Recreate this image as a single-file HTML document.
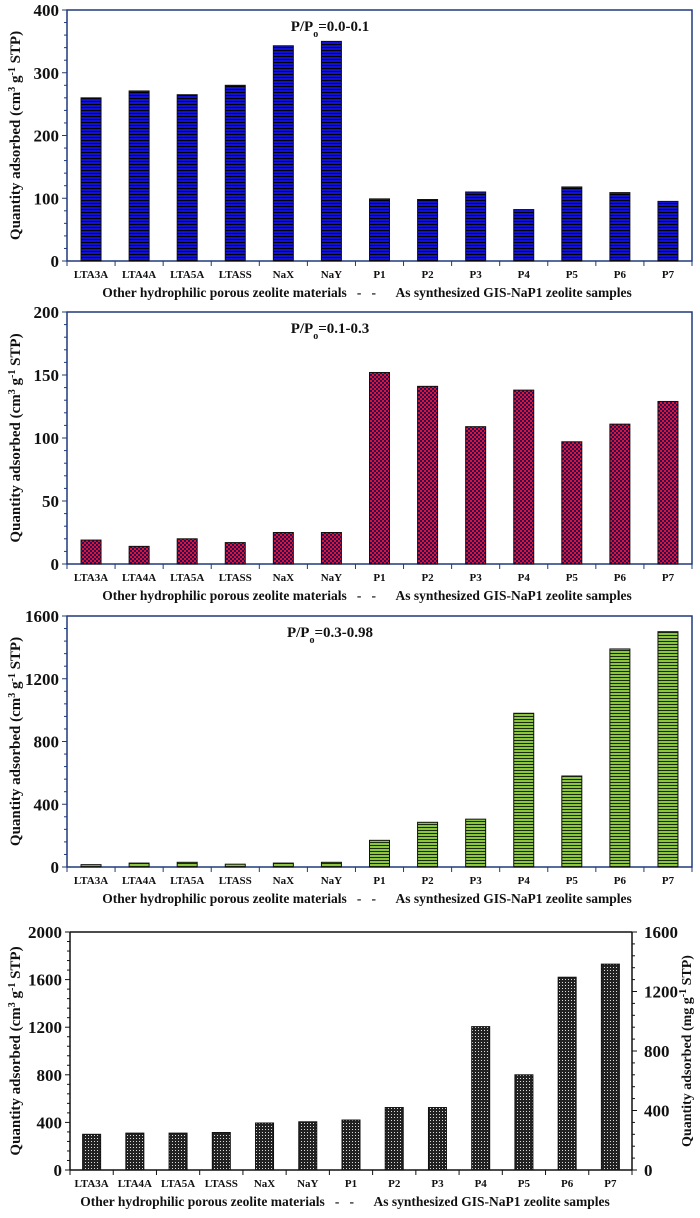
<!DOCTYPE html>
<html><head><meta charset="utf-8"><style>
body{margin:0;background:#fff;width:700px;height:1213px;overflow:hidden}
svg text{font-family:"Liberation Serif",serif;font-weight:bold;fill:#111;white-space:pre}
</style></head><body>
<svg id="c" width="700" height="1213">
<defs>
<pattern id="pb" width="4" height="3" patternUnits="userSpaceOnUse"><rect width="4" height="3" fill="#1010d8"/><rect y="2" width="4" height="1" fill="#000"/></pattern>
<pattern id="pr" width="4" height="4" patternUnits="userSpaceOnUse"><rect width="4" height="4" fill="#e8102a"/><rect width="2" height="2" fill="#201060"/><rect x="2" y="2" width="2" height="2" fill="#201060"/></pattern>
<pattern id="pg" width="4" height="3" patternUnits="userSpaceOnUse"><rect width="4" height="3" fill="#8cc63f"/><rect y="2" width="4" height="1" fill="#1a2a10"/></pattern>
<pattern id="pk" width="3" height="3" patternUnits="userSpaceOnUse"><rect width="3" height="3" fill="#222"/><rect x="1" y="1" width="1" height="1" fill="#ddd"/></pattern>
</defs>
</svg>
<script>
const categories=["LTA3A","LTA4A","LTA5A","LTASS","NaX","NaY","P1","P2","P3","P4","P5","P6","P7"];
const values1=[260,271,265,280,343,350,99,98,110,82,118,109,95];
const values2=[19,14,20,17,25,25,152,141,109,138,97,111,129];
const values3=[15,25,30,18,25,30,170,285,305,980,580,1390,1500];
const values4=[300,310,310,315,395,405,420,525,525,1205,800,1620,1730];
const ticks1=[0,100,200,300,400];
const ticks2=[0,50,100,150,200];
const ticks3=[0,400,800,1200,1600];
const ticks4=[0,400,800,1200,1600,2000];
const ticks4r=[0,400,800,1200,1600];
const svg=document.getElementById('c');
const NS='http://www.w3.org/2000/svg';
function mk(t,a,p){const e=document.createElementNS(NS,t);for(const k in a)e.setAttribute(k,a[k]);(p||svg).appendChild(e);return e;}
const sup=s=>'<tspan font-size="10" baseline-shift="super">'+s+'</tspan>';
const sub=s=>'<tspan font-size="10" baseline-shift="sub">'+s+'</tspan>';
const panels=[
 {v:values1,t:ticks1,max:400,L:67,R:692,T:10,B:261,fill:'url(#pb)',frame:true,title:'0.0-0.1',col:'#1f3a7a',bw:20},
 {v:values2,t:ticks2,max:200,L:67,R:692,T:312,B:564,fill:'url(#pr)',frame:true,title:'0.1-0.3',col:'#1f3a7a',bw:20},
 {v:values3,t:ticks3,max:1600,L:67,R:692,T:616,B:867,fill:'url(#pg)',frame:true,title:'0.3-0.98',col:'#1f3a7a',bw:20},
 {v:values4,t:ticks4,max:2000,L:70,R:632,T:932,B:1170,fill:'url(#pk)',frame:false,col:'#111',bw:18}
];
panels.forEach((p,pi)=>{
 const g=mk('g',{});
 
 
 const y=v=>p.B-(v/p.max)*(p.B-p.T);
 const cw=(p.R-p.L)/categories.length;
 const x=i=>p.L+cw*(i+0.5);
 if(p.frame){const f=mk('rect',{x:p.L,y:p.T,width:p.R-p.L,height:p.B-p.T,fill:'none',stroke:p.col,'stroke-width':1.5},g);
  }
 else{mk('line',{x1:p.L,y1:p.T,x2:p.L,y2:p.B,stroke:'#111','stroke-width':1.5},g);
  mk('line',{x1:p.L,y1:p.B,x2:p.R,y2:p.B,stroke:'#111','stroke-width':1.5},g);
  mk('line',{x1:p.R,y1:p.T,x2:p.R,y2:p.B,stroke:'#111','stroke-width':1.5},g);
  mk('line',{x1:p.L,y1:p.T,x2:p.R,y2:p.T,stroke:'#111','stroke-width':1.5},g);}
 const step=p.t[1]-p.t[0];
 for(let k=0;k<=(p.t.length-1)*5;k++){const v=k*step/5;const yy=y(v);const major=k%5==0;
  mk('line',{x1:p.L-(major?5:3),y1:yy,x2:p.L,y2:yy,stroke:p.col,'stroke-width':1},g);}
 p.t.forEach(v=>{const t=mk('text',{x:p.L-8,y:y(v)+6,'text-anchor':'end','font-size':17},g);t.textContent=v;
  });
 for(let i=0;i<=categories.length;i++){mk('line',{x1:p.L+cw*i,y1:p.B,x2:p.L+cw*i,y2:p.B+5,stroke:p.col,'stroke-width':1},g);}
 categories.forEach((c,i)=>{
  const b=mk('rect',{x:x(i)-p.bw/2,y:y(p.v[i]),width:p.bw,height:p.B-y(p.v[i]),fill:p.fill,stroke:'#111','stroke-width':1},g);
  
  
  const t=mk('text',{x:x(i),y:p.B+17,'text-anchor':'middle','font-size':11},g);t.textContent=c;
  
 });
 const xt=mk('text',{x:p.L+(pi==3?275:300),y:p.B+36,'text-anchor':'middle','font-size':13.5},g);
 xt.textContent='Other hydrophilic porous zeolite materials   -   -      As synthesized GIS-NaP1 zeolite samples';
 
 const cy=(p.T+p.B)/2;
 const yt=mk('text',{x:20,y:cy,'text-anchor':'middle','font-size':15,transform:`rotate(-90 20 ${cy})`},g);
 yt.innerHTML='Quantity adsorbed (cm'+sup('3')+' g'+sup('-1')+' STP)';
 
 if(p.title){const tt=mk('text',{x:330,y:p.T+21,'text-anchor':'middle','font-size':15},g);
  tt.innerHTML='P/P'+sub('o')+'='+p.title;
  }
 if(pi==3){const rmax=1600;const yr=v=>p.B-(v/rmax)*(p.B-p.T);
  for(let k=0;k<=20;k++){const v=k*80;mk('line',{x1:p.R,y1:yr(v),x2:p.R+(k%5==0?5:3),y2:yr(v),stroke:'#111'},g);}
  ticks4r.forEach(v=>{const t=mk('text',{x:p.R+12,y:yr(v)+6,'font-size':17},g);t.textContent=v;
   });
  const rt=mk('text',{x:691,y:cy,'text-anchor':'middle','font-size':14,transform:`rotate(-90 691 ${cy})`},g);
  rt.innerHTML='Quantity adsorbed (mg g'+sup('-1')+' STP)';
  }
});
</script>
</body></html>
